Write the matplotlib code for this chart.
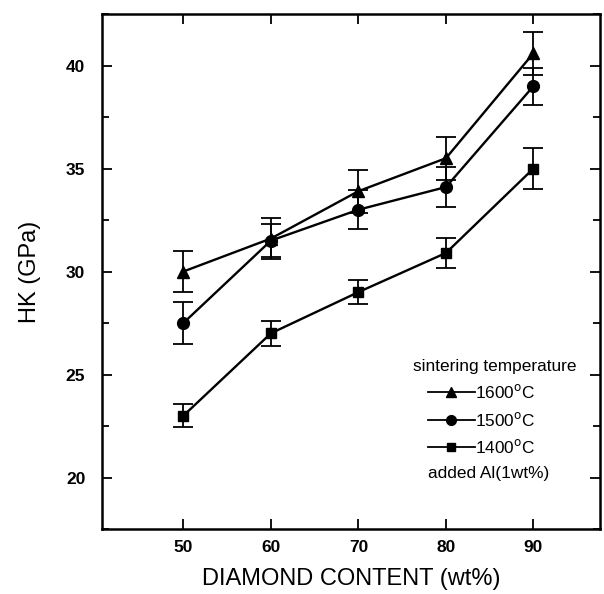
import numpy as np
import matplotlib.pyplot as plt
from matplotlib.lines import Line2D
from matplotlib.ticker import MultipleLocator

plt.rcParams['font.family'] = ['Liberation Sans', 'DejaVu Sans']

# data
content = [50, 60, 70, 80, 90]
hk_1600 = [30.0, 31.6, 33.9, 35.5, 40.6]
err_1600 = [1.0, 1.0, 1.05, 1.05, 1.05]
hk_1500 = [27.5, 31.5, 33.0, 34.1, 39.0]
err_1500 = [1.0, 0.8, 0.95, 0.95, 0.9]
hk_1400 = [23.0, 27.0, 29.0, 30.9, 35.0]
err_1400 = [0.55, 0.6, 0.6, 0.75, 1.0]
labels = ['1600$^{\\rm o}$C', '1500$^{\\rm o}$C', '1400$^{\\rm o}$C']

fig = plt.figure(figsize=(6.04, 5.94), dpi=100)
ax = fig.add_axes([102/604, 65/594, 498/604, 515/594])

series = [(hk_1600, err_1600, '^', 8.5), (hk_1500, err_1500, 'o', 8.5), (hk_1400, err_1400, 's', 7.5)]
for (y, e, m, ms) in series:
    ax.errorbar(content, y, yerr=e, color='black', marker=m, markersize=ms,
                lw=1.7, elinewidth=1.3, capsize=7, capthick=1.3)

ax.set_xlim(40.7, 97.6)
ax.set_ylim(17.5, 42.5)
ax.set_xticks([50, 60, 70, 80, 90])
ax.yaxis.set_major_locator(MultipleLocator(5))
ax.yaxis.set_minor_locator(MultipleLocator(2.5))
ax.tick_params(which='both', direction='in', top=True, right=True, width=1.3)
ax.tick_params(which='major', length=7, labelsize=12.5)
ax.tick_params(axis='x', pad=8)
ax.tick_params(axis='y', pad=12)
ax.tick_params(which='minor', length=5)
for lab in ax.get_xticklabels() + ax.get_yticklabels():
    lab.set_fontweight('bold')
for sp in ax.spines.values():
    sp.set_linewidth(1.8)

ax.set_xlabel('DIAMOND CONTENT (wt%)', fontsize=17, labelpad=9)
ax.set_ylabel('HK (GPa)', fontsize=17, labelpad=18)

handles = [Line2D([], [], color='black', marker=m, markersize=ms - 1.5, lw=1.3)
           for (_, _, m, ms) in series]
handles.append(Line2D([], [], color='none'))
leg = fig.legend(handles, labels + ['added Al(1wt%)'], title='sintering temperature',
                 loc='upper left', bbox_to_anchor=(428/604, 1 - 359/594), frameon=False,
                 fontsize=12.4, title_fontsize=12.4, handlelength=2.7, handletextpad=0.05,
                 labelspacing=0.55, borderpad=0, borderaxespad=0)
leg._legend_box.align = 'left'
leg.get_title().set_position((-15, 0))
leg.get_texts()[-1].set_position((-47, 0))

fig.savefig('out.png', dpi=100)
